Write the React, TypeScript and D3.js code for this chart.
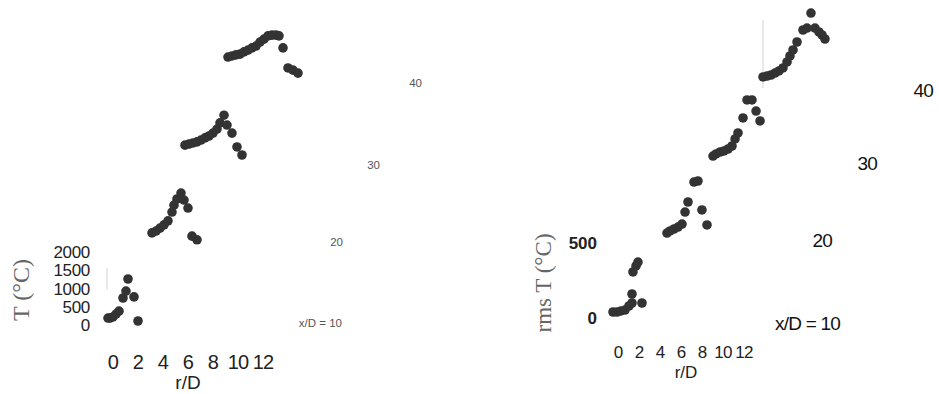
import React from "react";
import * as d3 from "d3";

// Radial profiles of mean temperature (°C) at four downstream stations
const stations = [10, 20, 30, 40];

const meanR10 = [0, 0.16, 0.4, 0.64, 0.88, 1.2, 1.44, 1.6, 2.08, 2.4];
const meanT10 = [190, 190, 220, 300, 380, 740, 930, 1260, 770, 110];
const meanR20 = [0.32, 0.64, 0.96, 1.28, 1.6, 1.92, 2.08, 2.32, 2.64, 2.88, 3.2, 3.52, 3.92];
const meanT20 = [250, 300, 380, 470, 580, 820, 1010, 1180, 1340, 1150, 930, 160, 60];
const meanR30 = [-0.24, 0.08, 0.4, 0.72, 1.04, 1.36, 1.68, 2.0, 2.32, 2.56, 2.88, 3.12, 3.52, 3.92, 4.32];
const meanT30 = [380, 410, 440, 470, 520, 580, 630, 710, 820, 990, 1200, 930, 710, 330, 110];
const meanR40 = [0, 0.32, 0.64, 0.96, 1.28, 1.6, 1.92, 2.24, 2.56, 2.88, 3.2, 3.52, 3.84, 4.08, 4.4, 4.8, 5.2, 5.6];
const meanT40 = [520, 550, 580, 600, 660, 710, 770, 820, 930, 1010, 1100, 1120, 1120, 1100, 770, 220, 160, 80];

// Radial profiles of rms temperature fluctuation (°C)
const rmsR10 = [0, 0.38, 0.76, 1.14, 1.52, 1.81, 1.81, 1.9, 2.19, 2.38, 2.76];
const rmsT10 = [40, 40, 47, 53, 80, 100, 160, 307, 347, 373, 100];
const rmsR20 = [0.38, 0.67, 1.05, 1.43, 1.81, 2.1, 2.38, 2.95, 3.33, 3.71, 4.19];
const rmsT20 = [53, 67, 80, 93, 113, 193, 260, 393, 400, 207, 107];
const rmsR30 = [0, 0.29, 0.67, 1.05, 1.43, 1.81, 2.1, 2.38, 2.86, 3.24, 3.71, 4.1, 4.48];
const rmsT30 = [53, 67, 80, 87, 100, 120, 167, 207, 307, 427, 427, 353, 287];
const rmsR40 = [0, 0.38, 0.76, 1.14, 1.52, 1.9, 2.29, 2.57, 2.86, 3.24, 3.81, 4.19, 4.57, 4.95, 5.33, 5.62, 5.9];
const rmsT40 = [67, 73, 80, 93, 107, 127, 167, 207, 247, 300, 380, 393, 493, 393, 367, 347, 320];

const rTicks = [0, 2, 4, 6, 8, 10, 12];
const meanTicks = [0, 500, 1000, 1500, 2000];
const rmsTicks = [0, 500];

type Pt = { xD: number; r: number; T: number };

function table(rs: number[][], ts: number[][]): Pt[] {
  const out: Pt[] = [];
  stations.forEach((xD, i) => {
    rs[i].forEach((r, j) => out.push({ xD, r, T: ts[i][j] }));
  });
  return out;
}

const meanPts = table([meanR10, meanR20, meanR30, meanR40], [meanT10, meanT20, meanT30, meanT40]);
const rmsPts = table([rmsR10, rmsR20, rmsR30, rmsR40], [rmsT10, rmsT20, rmsT30, rmsT40]);

const SANS = "'Liberation Sans', Arial, Helvetica, sans-serif";
const SERIF = "'Liberation Serif', 'Times New Roman', serif";

// Oblique waterfall projection: r to the right, T upward, each x/D plane shifted up-right
const L = {
  r: d3.scaleLinear().domain([0, 12]).range([108, 258]),
  t: d3.scaleLinear().domain([0, 2000]).range([325, 252]),
  px: d3.scaleLinear().domain([10, 40]).range([0, 120]),
  py: d3.scaleLinear().domain([10, 40]).range([0, -249]),
};
const R = {
  r: d3.scaleLinear().domain([0, 12]).range([613, 739]),
  t: d3.scaleLinear().domain([0, 500]).range([318, 243]),
  px: d3.scaleLinear().domain([10, 40]).range([0, 150]),
  py: d3.scaleLinear().domain([10, 40]).range([0, -231]),
};

const leftStationLabels = [
  { x: 342, y: 323 },
  { x: 343, y: 242 },
  { x: 380, y: 165 },
  { x: 422, y: 83 },
];
const rightStationLabels = [
  { x: 840, y: 323 },
  { x: 832, y: 240 },
  { x: 877, y: 163 },
  { x: 933, y: 90 },
];

export default function App() {
  return (
    <svg
      width={939}
      height={394}
      style={{ position: "absolute", left: 0, top: 0, background: "#fff" }}
    >
      {/* ---------- mean temperature panel ---------- */}
      <line x1={107} x2={107} y1={268} y2={290} stroke="#d4d4d4" strokeWidth={1} />
      {meanTicks.map((v) => (
        <text
          key={"lt" + v}
          x={90}
          y={L.t(v)}
          dy="0.36em"
          textAnchor="end"
          fontFamily={SANS}
          fontSize={17}
          fill="#222"
          letterSpacing={-0.3}
        >
          {v}
        </text>
      ))}
      {rTicks.map((v) => (
        <text
          key={"lx" + v}
          x={L.r(v) + 5}
          y={362}
          dy="0.36em"
          textAnchor="middle"
          fontFamily={SANS}
          fontSize={20}
          fill="#222"
          letterSpacing={-0.8}
        >
          {v}
        </text>
      ))}
      <text x={188} y={382} dy="0.36em" textAnchor="middle" fontFamily={SANS} fontSize={19} fill="#222">
        r/D
      </text>
      <text
        transform="translate(21,290) rotate(-90)"
        textAnchor="middle"
        dy="0.35em"
        fontFamily={SERIF}
        fontSize={24}
        fill="#666"
      >
        T (°C)
      </text>
      {stations.map((s, i) => (
        <text
          key={"ls" + s}
          x={leftStationLabels[i].x}
          y={leftStationLabels[i].y}
          dy="0.36em"
          textAnchor="end"
          fontFamily={SANS}
          fontSize={11.5}
          fill="#555"
        >
          {i === 0 ? `x/D = ${s}` : s}
        </text>
      ))}
      {meanPts.map((p, i) => (
        <circle
          key={"lp" + i}
          cx={L.r(p.r) + L.px(p.xD)}
          cy={L.t(p.T) + L.py(p.xD)}
          r={4.8}
          fill="#333"
        />
      ))}

      {/* ---------- rms temperature panel ---------- */}
      <line x1={763} x2={763} y1={20} y2={88} stroke="#d4d4d4" strokeWidth={1} />
      {rmsTicks.map((v) => (
        <text
          key={"rt" + v}
          x={597}
          y={R.t(v)}
          dy="0.36em"
          textAnchor="end"
          fontFamily={SANS}
          fontSize={17}
          fontWeight="bold"
          fill="#222"
        >
          {v}
        </text>
      ))}
      {rTicks.map((v) => (
        <text
          key={"rx" + v}
          x={R.r(v) + 5}
          y={352}
          dy="0.36em"
          textAnchor="middle"
          fontFamily={SANS}
          fontSize={17}
          fill="#222"
          letterSpacing={-0.8}
        >
          {v}
        </text>
      ))}
      <text x={686} y={372} dy="0.36em" textAnchor="middle" fontFamily={SANS} fontSize={17} fill="#222">
        r/D
      </text>
      <text
        transform="translate(543,283) rotate(-90)"
        textAnchor="middle"
        dy="0.35em"
        fontFamily={SERIF}
        fontSize={23}
        fill="#666"
      >
        rms T (°C)
      </text>
      {stations.map((s, i) => (
        <text
          key={"rs" + s}
          x={rightStationLabels[i].x}
          y={rightStationLabels[i].y}
          dy="0.36em"
          textAnchor="end"
          fontFamily={SANS}
          fontSize={19}
          fill="#111"
          letterSpacing={-0.8}
        >
          {i === 0 ? `x/D = ${s}` : s}
        </text>
      ))}
      {rmsPts.map((p, i) => (
        <circle
          key={"rp" + i}
          cx={R.r(p.r) + R.px(p.xD)}
          cy={R.t(p.T) + R.py(p.xD)}
          r={4.8}
          fill="#333"
        />
      ))}
    </svg>
  );
}
